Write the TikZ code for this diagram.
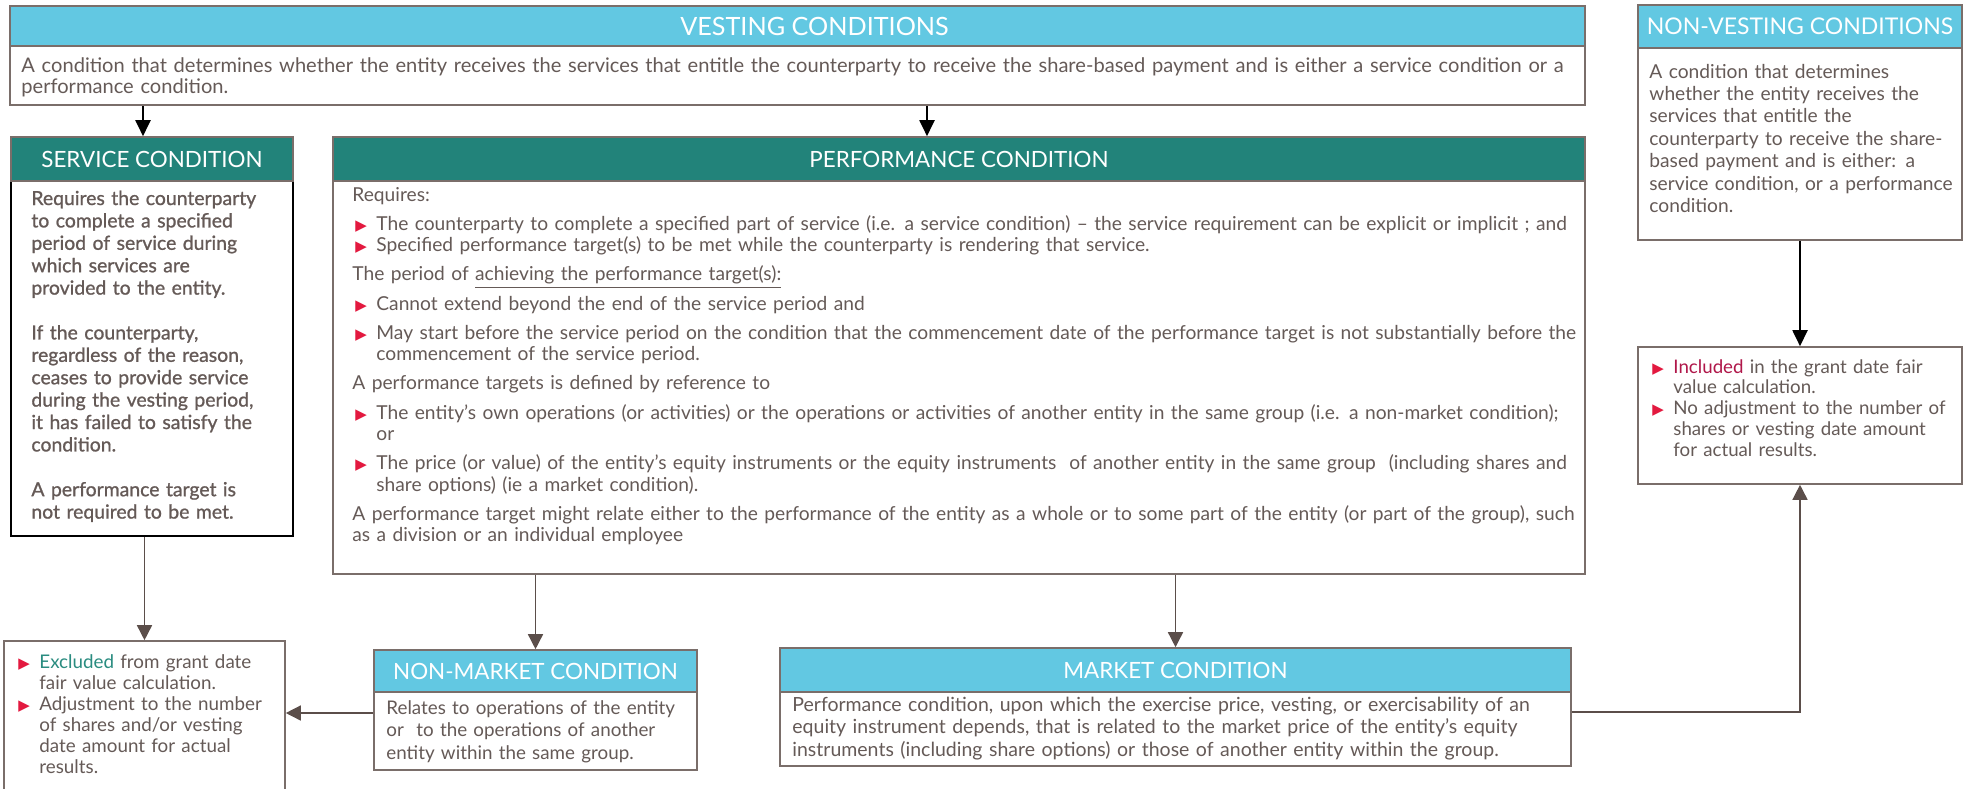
\documentclass[tikz,border=0pt]{standalone}
\usepackage{fontspec}
\setmainfont{Lato}
\newfontfamily\symfont{DejaVu Sans}
\newfontfamily\svcfont[FakeBold=1]{Lato}
\usetikzlibrary{arrows.meta,fit}
\definecolor{hblue}{HTML}{62C8E2}
\definecolor{hteal}{HTML}{22837A}
\definecolor{bord}{HTML}{7A6E6A}
\definecolor{txt}{HTML}{655A57}
\definecolor{bulred}{HTML}{E3193F}
\definecolor{exteal}{HTML}{2A8C80}
\definecolor{incred}{HTML}{B0174A}
\definecolor{arr}{HTML}{5B4E4A}
\newlength\bulw
\setlength\bulw{12pt}
\newcommand\bl{\makebox[\bulw][l]{\hspace{1.5pt}{\symfont\fontsize{7.5}{7}\selectfont\color{bulred}▶}}}
\newcommand\ind{\hspace*{\bulw}}
\tikzset{
  hdrblue/.style={fill=hblue, draw=bord, line width=0.8pt, inner sep=0pt},
  hdrteal/.style={fill=hteal, draw=bord, line width=0.8pt, inner sep=0pt},
  ttl/.style={inner sep=0pt, text=white, font=\fontsize{11.2}{12}\selectfont},
  bodybox/.style={fill=white, draw=bord, line width=0.8pt, inner sep=0pt},
  bodytxt/.style={anchor=base west, inner sep=0pt, text=txt, align=left},
  toparr/.style={draw=black, line width=1pt, -{Triangle[length=8pt,width=7.5pt]}},
  lowarr/.style={draw=arr, line width=0.75pt, -{Triangle[length=7.5pt,width=7.5pt]}}
}
\begin{document}
\begin{tikzpicture}[x=0.5pt,y=-0.5pt]
\useasboundingbox (0,0) rectangle (1964,788);
% ---------- VESTING ----------
\node[bodybox, fit={(10,46) (1585,105)}] (vbody) {};
\node[hdrblue, fit={(10,6) (1585,46)}] (vhead) {};
\node[ttl, font=\fontsize{12.6}{13}\selectfont] (vtitle) at ([xshift=8.5pt]vhead.center) {VESTING CONDITIONS};
\node[bodytxt, text width=850pt, font=\fontsize{10.05}{10.5}\selectfont] (vtxt) at (21,72)
 {A condition that determines whether the entity receives the services that entitle the counterparty to receive the share-based payment and is either a service condition or a\\
 performance condition.};
% ---------- NON-VESTING ----------
\node[bodybox, fit={(1638,48) (1962,240)}] (nvbody) {};
\node[hdrblue, fit={(1638,5) (1962,48)}] (nvhead) {};
\node[ttl, font=\fontsize{11.5}{12}\selectfont] (nvtitle) at (nvhead.center) {NON-VESTING CONDITIONS};
\node[bodytxt, text width=175pt, font=\fontsize{9.6}{11.2}\selectfont] (nvtxt) at (1649,78)
 {A condition that determines\\
 whether the entity receives the\\
 services that entitle the\\
 counterparty to receive the share-\\
 based payment and is either: a\\
 service condition, or a performance\\
 condition.};
% ---------- SERVICE ----------
\node[bodybox, draw=black, line width=1pt, fit={(11,181) (293,536)}] (svbody) {};
\node[hdrteal, fit={(11,137) (293,181)}] (svhead) {};
\node[ttl] (svtitle) at (svhead.center) {SERVICE CONDITION};
\node[bodytxt, text width=140pt, font=\svcfont\fontsize{9.7}{11.2}\selectfont] (svtxt) at (31,205)
 {Requires the counterparty\\
 to complete a specified\\
 period of service during\\
 which services are\\
 provided to the entity.\\[11.2pt]
 If the counterparty,\\
 regardless of the reason,\\
 ceases to provide service\\
 during the vesting period,\\
 it has failed to satisfy the\\
 condition.\\[11.2pt]
 A performance target is\\
 not required to be met.};
% ---------- PERFORMANCE ----------
\node[bodybox, fit={(333,181) (1585,574)}] (pfbody) {};
\node[hdrteal, fit={(333,137) (1585,181)}] (pfhead) {};
\node[ttl] (pftitle) at (pfhead.center) {PERFORMANCE CONDITION};
\node[bodytxt, text width=660pt, font=\fontsize{9.6}{10.7}\selectfont] (pftxt) at (352,201)
 {Requires:\\[3.9pt]
 \bl The counterparty to complete a specified part of service (i.e. a service condition) – the service requirement can be explicit or implicit ; and\\
 \bl Specified performance target(s) to be met while the counterparty is rendering that service.\\[3.9pt]
 The period of \smash{\underline{achieving the performance target(s):}}\\[3.9pt]
 \bl Cannot extend beyond the end of the service period and\\[3.9pt]
 \bl May start before the service period on the condition that the commencement date of the performance target is not substantially before the\\
 \ind commencement of the service period.\\[3.9pt]
 A performance targets is defined by reference to\\[3.9pt]
 \bl The entity’s own operations (or activities) or the operations or activities of another entity in the same group (i.e. a non-market condition);\\
 \ind or\\[3.9pt]
 \bl The price (or value) of the entity’s equity instruments or the equity instruments \ of another entity in the same group \ (including shares and\\
 \ind share options) (ie a market condition).\\[3.9pt]
 A performance target might relate either to the performance of the entity as a whole or to some part of the entity (or part of the group), such\\
 as a division or an individual employee};
% ---------- INCLUDED ----------
\node[bodybox, fit={(1638,347) (1962,484)}] (incl) {};
\node[bodytxt, text width=165pt, font=\fontsize{9.35}{10.4}\selectfont] (incltxt) at (1649,373)
 {\bl{\color{incred}Included} in the grant date fair\\
 \ind value calculation.\\
 \bl No adjustment to the number of\\
 \ind shares or vesting date amount\\
 \ind for actual results.};
% ---------- EXCLUDED ----------
\node[bodybox, fit={(4,641) (285,795)}] (excl) {};
\node[bodytxt, text width=135pt, font=\fontsize{9.4}{10.5}\selectfont] (excltxt) at (15,668)
 {\bl{\color{exteal}Excluded} from grant date\\
 \ind fair value calculation.\\
 \bl Adjustment to the number\\
 \ind of shares and/or vesting\\
 \ind date amount for actual\\
 \ind results.};
% ---------- NON-MARKET ----------
\node[bodybox, fit={(374,692) (697,770)}] (nmbody) {};
\node[hdrblue, fit={(374,650) (697,692)}] (nmhead) {};
\node[ttl] (nmtitle) at (nmhead.center) {NON-MARKET CONDITION};
\node[bodytxt, text width=160pt, font=\fontsize{9.4}{11.25}\selectfont] (nmtxt) at (386,714)
 {Relates to operations of the entity\\
 or \ to the operations of another\\
 entity within the same group.};
% ---------- MARKET ----------
\node[bodybox, fit={(780,692) (1571,766)}] (mkbody) {};
\node[hdrblue, fit={(780,648) (1571,692)}] (mkhead) {};
\node[ttl] (mktitle) at (mkhead.center) {MARKET CONDITION};
\node[bodytxt, text width=385pt, font=\fontsize{9.75}{11.25}\selectfont] (mktxt) at (792,711)
 {Performance condition, upon which the exercise price, vesting, or exercisability of an\\
 equity instrument depends, that is related to the market price of the entity’s equity\\
 instruments (including share options) or those of another entity within the group.};
% ---------- CONNECTORS ----------
\draw[toparr] ([xshift=-4.5pt]svhead.north |- vbody.south) -- ([xshift=-4.5pt]svhead.north);
\draw[toparr] ([xshift=-16pt]pfhead.north |- vbody.south) -- ([xshift=-16pt]pfhead.north);
\draw[toparr] (incl.north |- nvbody.south) -- (incl.north);
\draw[lowarr] (excl.north |- svbody.south) -- (excl.north);
\draw[lowarr] (nmhead.north |- pfbody.south) -- (nmhead.north);
\draw[lowarr] (mkhead.north |- pfbody.south) -- (mkhead.north);
\coordinate (nmout) at ([yshift=9pt]nmbody.west);
\draw[lowarr] (nmout) -- (nmout -| excl.east);
\coordinate (mkout) at ([yshift=8.5pt]mkbody.east);
\draw[lowarr] (mkout) -| (incl.south);
\end{tikzpicture}
\end{document}
